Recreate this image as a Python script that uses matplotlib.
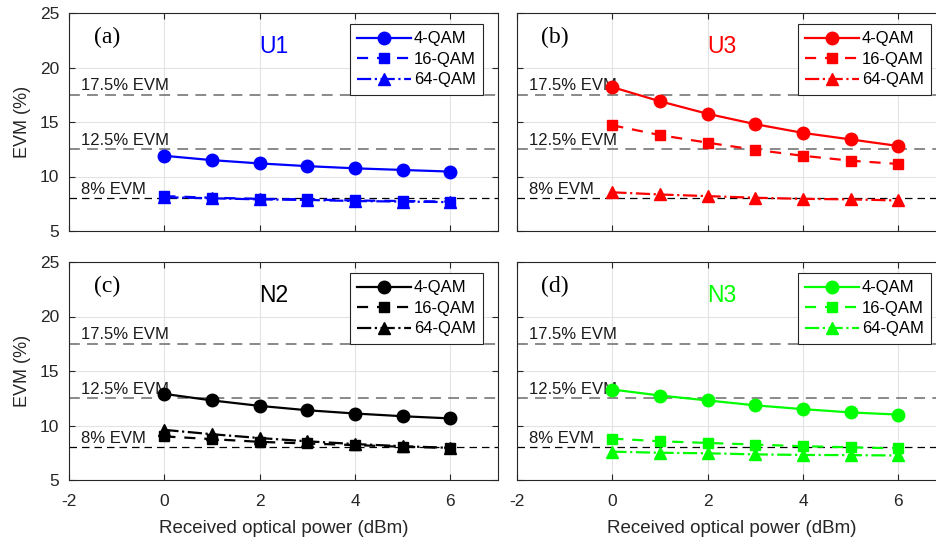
import numpy as np
import matplotlib
matplotlib.use('Agg')
import matplotlib.pyplot as plt

plt.rcParams['font.family'] = ['Liberation Sans', 'DejaVu Sans']
plt.rcParams['axes.unicode_minus'] = False

# datos
potencia = [0, 1, 2, 3, 4, 5, 6]

u1_4qam = [11.9, 11.5, 11.2, 10.95, 10.75, 10.6, 10.45]
u1_16qam = [8.2, 8.05, 7.95, 7.9, 7.8, 7.75, 7.7]
u1_64qam = [8.1, 8.0, 7.9, 7.85, 7.75, 7.7, 7.65]

u3_4qam = [18.2, 16.9, 15.75, 14.8, 14.0, 13.4, 12.8]
u3_16qam = [14.7, 13.8, 13.1, 12.45, 11.9, 11.45, 11.15]
u3_64qam = [8.55, 8.35, 8.2, 8.05, 7.95, 7.9, 7.8]

n2_4qam = [12.9, 12.3, 11.8, 11.4, 11.1, 10.85, 10.65]
n2_16qam = [9.0, 8.75, 8.5, 8.35, 8.2, 8.05, 7.95]
n2_64qam = [9.6, 9.2, 8.85, 8.55, 8.3, 8.1, 7.95]

n3_4qam = [13.3, 12.75, 12.3, 11.85, 11.5, 11.2, 11.0]
n3_16qam = [8.8, 8.55, 8.4, 8.25, 8.1, 8.0, 7.9]
n3_64qam = [7.6, 7.5, 7.45, 7.35, 7.3, 7.28, 7.25]

paneles = [
    ('(a)', 'U1', '#0000ff', u1_4qam, u1_16qam, u1_64qam),
    ('(b)', 'U3', '#ff0000', u3_4qam, u3_16qam, u3_64qam),
    ('(c)', 'N2', '#000000', n2_4qam, n2_16qam, n2_64qam),
    ('(d)', 'N3', '#00ff00', n3_4qam, n3_16qam, n3_64qam),
]

umbrales = [17.5, 12.5, 8]
umbral_txt = ['17.5% EVM', '12.5% EVM', '8% EVM']

fig = plt.figure(figsize=(9.36, 5.47), dpi=100)

W, H = 936, 547
posiciones = [(69, 13), (517, 13), (69, 262), (517, 262)]
ancho, alto = 429, 218

for i, (letra, nombre, color, s4, s16, s64) in enumerate(paneles):
    x0, y0 = posiciones[i]
    ax = fig.add_axes([x0 / W, 1 - (y0 + alto) / H, ancho / W, alto / H])
    ax.set_xlim(-2, 7)
    ax.set_ylim(5, 25)
    ax.set_xticks([-2, 0, 2, 4, 6])
    ax.set_yticks([5, 10, 15, 20, 25])
    ax.grid(True, color='#e3e3e3', linewidth=0.8)
    ax.set_axisbelow(True)
    ax.tick_params(direction='in', top=True, right=True, labelsize=12.5,
                   length=4, colors='#262626')
    ax.tick_params(axis='x', pad=10)
    ax.tick_params(axis='y', pad=7)
    for sp in ax.spines.values():
        sp.set_color('#262626')
        sp.set_linewidth(0.8)

    # lineas de umbral
    for u, t in zip(umbrales, umbral_txt):
        c = '#000000' if u == 8 else '#808080'
        lw = 0.9 if u == 8 else 1.3
        ax.axhline(u, color=c, linestyle=(0, (6, 4)), linewidth=lw, zorder=1)
        ax.text(-1.74, u + 0.4, t, fontsize=12, color='#1a1a1a', zorder=2)

    ax.plot(potencia, s4, '-o', color=color, linewidth=1.6, markersize=9, label='4-QAM', zorder=4)
    ax.plot(potencia, s16, '--s', color=color, linewidth=1.6, markersize=6.5, label='16-QAM', dashes=(5, 4), zorder=4)
    ax.plot(potencia, s64, '-.^', color=color, linewidth=1.6, markersize=8.5, label='64-QAM', zorder=4)

    ax.text(-1.2, 22.8, letra, fontsize=17, family=['Liberation Serif', 'DejaVu Serif'],
            ha='center', va='center')
    ax.text(2.3, 21.9, nombre, fontsize=16.5, color=color, ha='center', va='center')

    leg = ax.legend(loc='upper right', fontsize=12, frameon=True, fancybox=False,
                    edgecolor='#262626', framealpha=1, handlelength=3.2,
                    borderpad=0.45, labelspacing=0.33, handletextpad=0.2,
                    borderaxespad=0, bbox_to_anchor=(0.966, 0.95))
    leg.get_frame().set_linewidth(0.8)

    if i % 2 == 0:
        ax.set_ylabel('EVM (%)', fontsize=13, color='#262626', labelpad=6)
    else:
        ax.set_yticklabels([])
    if i >= 2:
        ax.set_xlabel('Received optical power (dBm)', fontsize=13.5, color='#262626', labelpad=8)
    else:
        ax.set_xticklabels([])

fig.savefig('out.png', dpi=100)
